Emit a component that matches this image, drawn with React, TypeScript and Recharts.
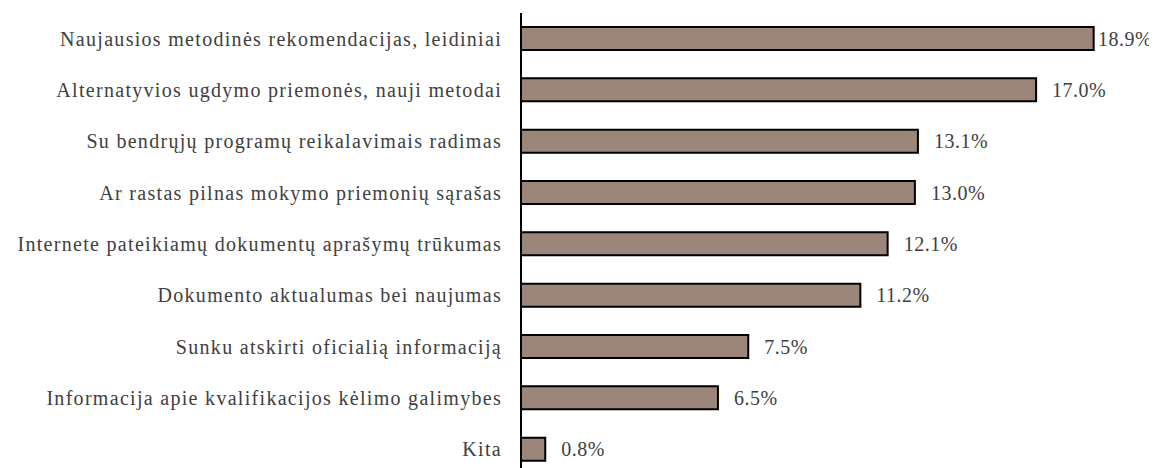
import React from "react";
import { BarChart, Bar, XAxis, YAxis, LabelList } from "recharts";

const categories = [
  "Naujausios metodinės rekomendacijas, leidiniai",
  "Alternatyvios ugdymo priemonės, nauji metodai",
  "Su bendrųjų programų reikalavimais radimas",
  "Ar rastas pilnas mokymo priemonių sąrašas",
  "Internete pateikiamų dokumentų aprašymų trūkumas",
  "Dokumento aktualumas bei naujumas",
  "Sunku atskirti oficialią informaciją",
  "Informacija apie kvalifikacijos kėlimo galimybes",
  "Kita",
];
const values = [18.9, 17.0, 13.1, 13.0, 12.1, 11.2, 7.5, 6.5, 0.8];
const labels = ["18.9%", "17.0%", "13.1%", "13.0%", "12.1%", "11.2%", "7.5%", "6.5%", "0.8%"];

const data = categories.map((c, i) => ({ name: c, value: values[i], label: labels[i] }));

const W = 1149;
const H = 467;
const FONT = "'Liberation Serif', 'Times New Roman', serif";

const ValueLabel = (props: any) => {
  const { x, y, width, height, value } = props;
  const lx = Math.min(x + width + 16, W - 59);
  return (
    <text
      x={lx}
      y={y + height / 2}
      dy="0.355em"
      fontFamily={FONT}
      fontSize={20}
      letterSpacing={0.5}
      fill="#404040"
      textAnchor="start"
    >
      {value}
    </text>
  );
};

export default function App() {
  return (
    <BarChart
      width={W}
      height={H}
      data={data}
      layout="vertical"
      margin={{ top: 5, right: 30, bottom: 0, left: 0 }}
      barCategoryGap={0}
    >
      <XAxis type="number" domain={[0, 20]} hide />
      <YAxis
        type="category"
        dataKey="name"
        width={513}
        tickLine={false}
        tickSize={0}
        tickMargin={19}
        axisLine={{ stroke: "#000", strokeWidth: 2 }}
        tick={{ fontFamily: FONT, fontSize: 20, letterSpacing: 1.3, fill: "#404040" }}
        interval={0}
      />
      <Bar
        dataKey="value"
        fill="#9C8579"
        stroke="#000"
        strokeWidth={2}
        barSize={23}
        isAnimationActive={false}
      >
        <LabelList dataKey="label" content={ValueLabel} />
      </Bar>
    </BarChart>
  );
}
